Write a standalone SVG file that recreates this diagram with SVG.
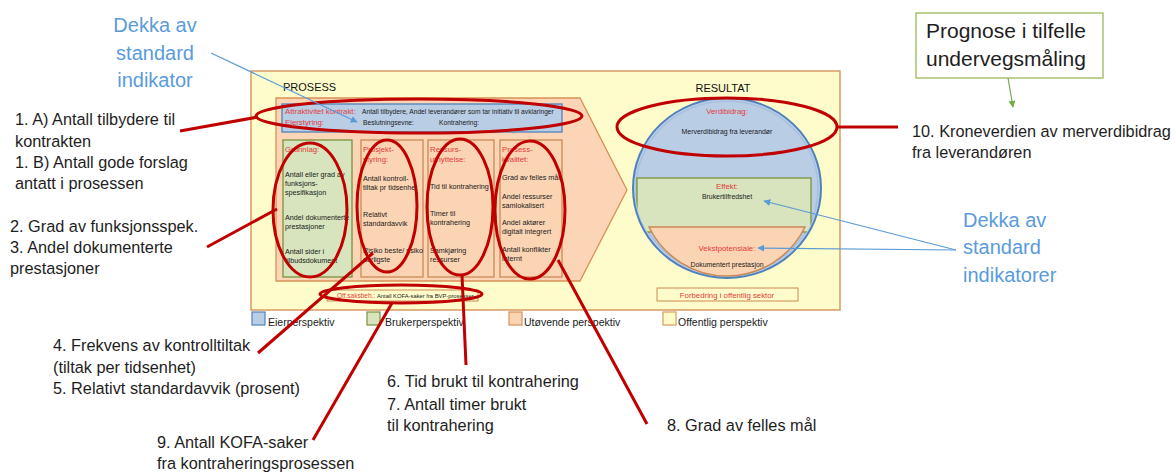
<svg xmlns="http://www.w3.org/2000/svg" width="1176" height="473" viewBox="0 0 1176 473">
<style>
text{font-family:"Liberation Sans",Arial,sans-serif;}
.lbl{font-size:16.3px;fill:#1e1e1e;}
.blu{font-size:20px;fill:#5A9BDB;}
.hd{font-size:11px;fill:#111;}
.rh{font-size:7.8px;fill:#E23B3B;}
.sm{font-size:7.2px;fill:#1a1a1a;}
.xs{font-size:6.7px;fill:#1a1a1a;}
.col{fill:#FBD4B4;stroke:#C98A55;stroke-width:1.3;}
.grn{fill:#D7E4BD;stroke:#77933C;stroke-width:1.3;}
.red{fill:none;stroke:#C00000;stroke-width:3;}
.bl{fill:none;stroke:#5B9BD5;stroke-width:1.2;}
.lg{font-size:10.5px;fill:#1a1a1a;}
</style>
<defs>
<marker id="ab" viewBox="0 0 10 10" refX="9" refY="5" markerWidth="7" markerHeight="7" orient="auto" markerUnits="userSpaceOnUse"><path d="M0,0 L10,5 L0,10 z" fill="#5B9BD5"/></marker>
<marker id="ag" viewBox="0 0 10 10" refX="9" refY="5" markerWidth="7" markerHeight="7" orient="auto" markerUnits="userSpaceOnUse"><path d="M0,0 L10,5 L0,10 z" fill="#70AD47"/></marker>
<clipPath id="cc"><ellipse cx="727" cy="188" rx="92" ry="88"/></clipPath>
</defs>
<rect width="1176" height="473" fill="#fff"/>

<g id="frame">
<rect x="251" y="71" width="589" height="239" fill="#FFFCCB" stroke="#D99A62" stroke-width="1.5"/>
<text class="hd" x="283" y="91">PROSESS</text>
<text class="hd" x="723" y="92" text-anchor="middle">RESULTAT</text>
</g>

<g id="prosess">
<path d="M276,98 L580,98 L627,190 L580,281 L276,281 Z" fill="#FBD5B5" stroke="#D99058" stroke-width="1.3"/>
</g>

<g id="eierstyring">
<rect x="282" y="104" width="280" height="28" fill="#B9CDE5" stroke="#4F81BD" stroke-width="1.3"/>
<text class="rh" x="285" y="114">Attraktivitet kontrakt:</text>
<text class="xs" x="362" y="114">Antall tilbydere, Andel leverandører som tar initiativ til avklaringer</text>
<text class="rh" x="285" y="125">Eierstyring:</text>
<text class="xs" x="363" y="125">Beslutningsevne:</text>
<text class="xs" x="439" y="125">Kontrahering:</text>
</g>

<g id="grunnlag">
<rect class="grn" x="283" y="140" width="69" height="137"/>
<text class="rh" x="285" y="152">Grunnlag:</text>
<text class="sm" x="285" y="177">Antall eller grad av</text>
<text class="sm" x="285" y="186">funksjons-</text>
<text class="sm" x="285" y="195">spesifikasjon</text>
<text class="sm" x="285" y="220">Andel dokumenterte</text>
<text class="sm" x="285" y="229">prestasjoner</text>
<text class="sm" x="285" y="254">Antall sider i</text>
<text class="sm" x="285" y="263">tilbudsdokument</text>
</g>

<g id="prosjektstyring">
<rect class="col" x="361" y="140" width="62" height="137"/>
<text class="rh" x="363" y="152">Prosjekt-</text>
<text class="rh" x="363" y="162">styring:</text>
<text class="sm" x="363" y="181">Antall kontroll-</text>
<text class="sm" x="363" y="190">tiltak pr tidsenhet</text>
<text class="sm" x="363" y="217">Relativt</text>
<text class="sm" x="363" y="226">standardavvik</text>
<text class="sm" x="363" y="253">Risiko beste/ risiko</text>
<text class="sm" x="363" y="262">dårligste</text>
</g>

<g id="ressursutnyttelse">
<rect class="col" x="428" y="140" width="66" height="137"/>
<text class="rh" x="430" y="152">Ressurs-</text>
<text class="rh" x="430" y="162">utnyttelse:</text>
<text class="sm" x="430" y="189">Tid til kontrahering</text>
<text class="sm" x="430" y="216">Timer til</text>
<text class="sm" x="430" y="225">kontrahering</text>
<text class="sm" x="430" y="253">Samkjøring</text>
<text class="sm" x="430" y="262">ressurser</text>
</g>

<g id="prosesskvalitet">
<rect class="col" x="500" y="140" width="62" height="137"/>
<text class="rh" x="502" y="152">Prosess-</text>
<text class="rh" x="502" y="162">kvalitet:</text>
<text class="sm" x="502" y="180">Grad av felles mål</text>
<text class="sm" x="502" y="199">Andel ressurser</text>
<text class="sm" x="502" y="208">samlokalisert</text>
<text class="sm" x="502" y="225">Andel aktører</text>
<text class="sm" x="502" y="234">digitalt integrert</text>
<text class="sm" x="502" y="252">Antall konflikter</text>
<text class="sm" x="502" y="261">internt</text>
</g>

<g id="offsaksbeh">
<rect x="327" y="290" width="151" height="11" fill="#FFFCCB" stroke="#C98A55" stroke-width="1"/>
<text x="337" y="298" style="font-size:6.5px;fill:#E23B3B">Off.saksbeh.:</text>
<text x="377" y="298" style="font-size:5.8px;fill:#1a1a1a">Antall KOFA-saker fra BVP-prosesser</text>
</g>

<g id="resultat">
<ellipse cx="727" cy="188" rx="94" ry="90" fill="#B9CDE5" stroke="#4F81BD" stroke-width="2"/>
<ellipse cx="727" cy="188" rx="91" ry="87" fill="none" stroke="#A7C0E0" stroke-width="1.5"/>
<rect x="637" y="178" width="174" height="54" class="grn" clip-path="url(#cc)"/>
<path d="M649,227 L805,227 A87,88 0 0 1 649,227 Z" fill="#FBD4B4" stroke="#C98A55" stroke-width="1.5"/>
<text class="rh" x="727" y="114" text-anchor="middle">Verdibidrag:</text>
<text class="sm" x="727" y="134" text-anchor="middle" style="font-size:6.9px">Merverdibidrag fra leverandør</text>
<text class="rh" x="727" y="189" text-anchor="middle">Effekt:</text>
<text class="sm" x="727" y="199" text-anchor="middle" style="font-size:6.9px">Brukertilfredshet</text>
<text class="rh" x="727" y="251" text-anchor="middle">Vekstpotensiale:</text>
<text class="sm" x="727" y="267" text-anchor="middle" style="font-size:6.9px">Dokumentert prestasjon</text>
</g>

<g id="forbedring">
<rect x="657" y="288" width="141" height="13" fill="#FFFCCB" stroke="#C98A55" stroke-width="1"/>
<text x="727" y="297.5" text-anchor="middle" style="font-size:7.8px;fill:#E23B3B">Forbedring i offentlig sektor</text>
</g>

<g id="legend">
<rect x="252" y="312" width="13" height="13" fill="#B9CDE5" stroke="#4F81BD" stroke-width="1.2"/>
<text class="lg" x="268" y="326">Eierperspektiv</text>
<rect x="367" y="312" width="13" height="13" fill="#D7E4BD" stroke="#77933C" stroke-width="1.2"/>
<text class="lg" x="385" y="326">Brukerperspektiv</text>
<rect x="509" y="312" width="13" height="13" fill="#FBD4B4" stroke="#D99058" stroke-width="1.2"/>
<text class="lg" x="524" y="326">Utøvende perspektiv</text>
<rect x="663" y="312" width="13" height="13" fill="#FFFCCB" stroke="#D99A62" stroke-width="1.2"/>
<text class="lg" x="678" y="326">Offentlig perspektiv</text>
</g>

<g id="prognose">
<rect x="916" y="13" width="187" height="65" fill="#fff" stroke="#9BBB59" stroke-width="1.3"/>
<text x="926" y="38" style="font-size:21px;fill:#1e1e1e">Prognose i tilfelle</text>
<text x="926" y="66" style="font-size:21px;fill:#1e1e1e">undervegsmåling</text>
</g>

<g id="labels">
<text class="blu" x="155" y="32" text-anchor="middle">Dekka av</text>
<text class="blu" x="155" y="60" text-anchor="middle">standard</text>
<text class="blu" x="155" y="87" text-anchor="middle">indikator</text>
<text class="blu" x="963" y="227">Dekka av</text>
<text class="blu" x="963" y="254">standard</text>
<text class="blu" x="963" y="282">indikatorer</text>
<text class="lbl" x="15" y="125">1. A) Antall tilbydere til</text>
<text class="lbl" x="15" y="147">kontrakten</text>
<text class="lbl" x="15" y="168">1. B) Antall gode forslag</text>
<text class="lbl" x="15" y="189">antatt i prosessen</text>
<text class="lbl" x="10" y="232">2. Grad av funksjonsspek.</text>
<text class="lbl" x="10" y="253">3. Andel dokumenterte</text>
<text class="lbl" x="10" y="274">prestasjoner</text>
<text class="lbl" x="53" y="351">4. Frekvens av kontrolltiltak</text>
<text class="lbl" x="53" y="373">(tiltak per tidsenhet)</text>
<text class="lbl" x="53" y="394">5. Relativt standardavvik (prosent)</text>
<text class="lbl" x="157" y="448">9. Antall KOFA-saker</text>
<text class="lbl" x="157" y="469">fra kontraheringsprosessen</text>
<text class="lbl" x="387" y="387">6. Tid brukt til kontrahering</text>
<text class="lbl" x="387" y="410">7. Antall timer brukt</text>
<text class="lbl" x="387" y="431">til kontrahering</text>
<text class="lbl" x="667" y="431">8. Grad av felles mål</text>
<text class="lbl" x="912" y="137">10. Kroneverdien av merverdibidrag</text>
<text class="lbl" x="912" y="158">fra leverandøren</text>
</g>

<g id="connectors">
<ellipse class="red" cx="419" cy="116" rx="163" ry="17"/>
<ellipse class="red" cx="310" cy="210" rx="37" ry="67"/>
<ellipse class="red" cx="387" cy="206" rx="30" ry="66"/>
<ellipse class="red" cx="460" cy="207" rx="33" ry="68"/>
<ellipse class="red" cx="530" cy="210" rx="35" ry="69"/>
<ellipse class="red" cx="401" cy="294" rx="81" ry="9"/>
<ellipse class="red" cx="727" cy="127" rx="110" ry="29"/>
<line class="red" x1="180" y1="131" x2="258" y2="117"/>
<line class="red" x1="207" y1="247" x2="277" y2="209"/>
<line class="red" x1="258" y1="353" x2="373" y2="253"/>
<line class="red" x1="313" y1="440" x2="392" y2="303"/>
<line class="red" x1="462" y1="275" x2="466" y2="365"/>
<line class="red" x1="558" y1="260" x2="647" y2="424"/>
<line class="red" x1="837" y1="127" x2="898" y2="127"/>
<line class="bl" x1="211" y1="53" x2="357" y2="122" marker-end="url(#ab)"/>
<line class="bl" x1="956" y1="250" x2="764" y2="201" marker-end="url(#ab)"/>
<line class="bl" x1="956" y1="250" x2="758" y2="248" marker-end="url(#ab)"/>
<line x1="1008" y1="78" x2="1013" y2="107" stroke="#70AD47" stroke-width="1.2" marker-end="url(#ag)"/>
</g>
</svg>
